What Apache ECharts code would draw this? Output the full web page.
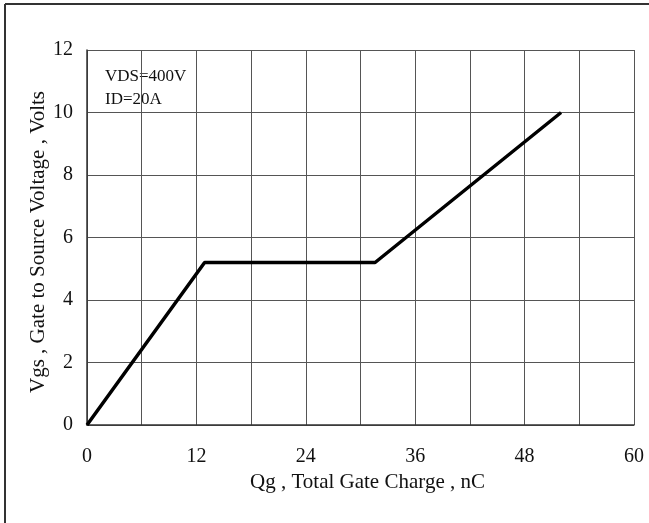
<!DOCTYPE html>
<html><head><meta charset="utf-8">
<script src="https://cdn.jsdelivr.net/npm/echarts@6/dist/echarts.min.js"></script>
<style>html,body{margin:0;padding:0;background:#fff}#c{width:649px;height:523px}</style>
</head><body><div id="c"></div>
<script>
const qg = [0, 12.9, 31.6, 52.0];
const vgs = [0, 5.2, 5.2, 10.0];
const xTicks = [0, 12, 24, 36, 48, 60];
const yTicks = [0, 2, 4, 6, 8, 10, 12];
const notes = ['VDS=400V', 'ID=20A'];
const font = 'Liberation Serif';
const chart = echarts.init(document.getElementById('c'));
chart.setOption({
  animation: false,
  backgroundColor: '#fff',
  grid: {left: 87, right: 15, top: 50, bottom: 98},
  xAxis: {
    type: 'value', min: 0, max: 60, interval: 6,
    name: 'Qg , Total Gate Charge , nC', nameLocation: 'middle', nameGap: 42,
    nameTextStyle: {fontFamily: font, fontSize: 21, color: '#111', padding: [0, 0, 0, 14]},
    axisLine: {lineStyle: {color: '#333', width: 1.5}},
    axisTick: {show: false},
    axisLabel: {fontFamily: font, fontSize: 20, color: '#111', margin: 22,
      formatter: v => xTicks.includes(v) ? String(v) : ''},
    splitLine: {show: true, lineStyle: {color: '#555', width: 1}}
  },
  yAxis: {
    type: 'value', min: 0, max: 12, interval: 2,
    name: 'Vgs , Gate to Source Voltage , Volts', nameLocation: 'middle', nameGap: 38,
    nameMoveOverlap: false,
    nameTextStyle: {fontFamily: font, fontSize: 21, color: '#111', padding: [0, 9, 0, 0]},
    axisLine: {show: true, lineStyle: {color: '#333', width: 1.5}},
    axisTick: {show: false},
    axisLabel: {fontFamily: font, fontSize: 20, color: '#111', margin: 14,
      formatter: v => yTicks.includes(v) ? String(v) : ''},
    splitLine: {show: true, lineStyle: {color: '#555', width: 1}}
  },
  graphic: [
    {type: 'line', shape: {x1: 5, y1: 4, x2: 649, y2: 4}, style: {stroke: '#333', lineWidth: 2}},
    {type: 'line', shape: {x1: 5, y1: 4, x2: 5, y2: 523}, style: {stroke: '#333', lineWidth: 2}},
    {type: 'text', left: 105, top: 68, style: {text: notes[0], font: '17px "Liberation Serif"', fill: '#111'}},
    {type: 'text', left: 105, top: 91, style: {text: notes[1], font: '17px "Liberation Serif"', fill: '#111'}}
  ],
  series: [{
    type: 'line', data: qg.map((x, i) => [x, vgs[i]]),
    showSymbol: false, lineStyle: {color: '#000', width: 3.5}
  }]
});
</script></body></html>
